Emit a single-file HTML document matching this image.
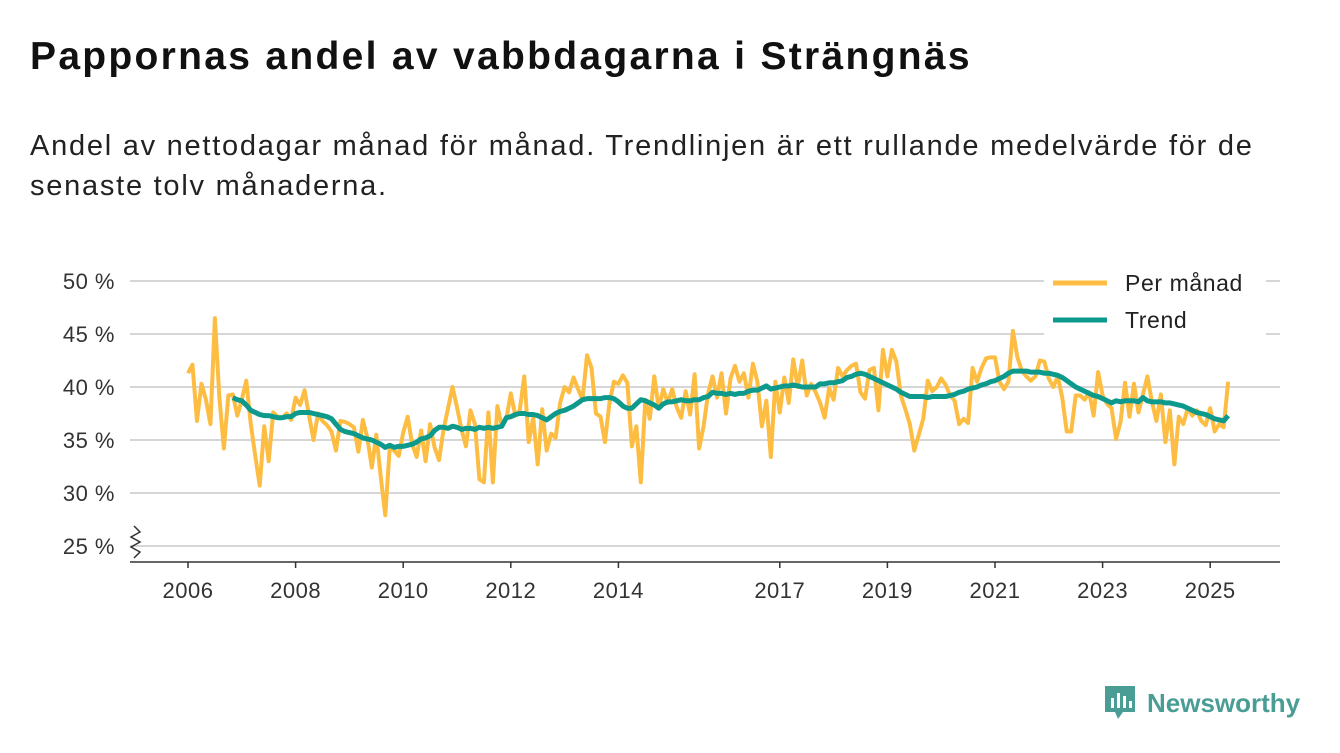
<!DOCTYPE html>
<html><head><meta charset="utf-8"><style>
body{margin:0;background:#fff;font-family:"Liberation Sans","DejaVu Sans",sans-serif;color:#111;}
#wrap{position:relative;width:1340px;height:753px;overflow:hidden;}
h1{position:absolute;left:30px;top:35px;margin:0;font-size:39px;font-weight:bold;letter-spacing:2.3px;white-space:nowrap;}
p.sub{position:absolute;left:30px;top:126px;margin:0;font-size:29px;line-height:40px;width:1300px;color:#222;letter-spacing:1.75px;white-space:nowrap;}
</style></head><body>
<div id="wrap">
<h1>Pappornas andel av vabbdagarna i Strängnäs</h1>
<p class="sub">Andel av nettodagar månad för månad. Trendlinjen är ett rullande medelvärde för de<br>senaste tolv månaderna.</p>
<svg id="chart" width="1340" height="753" style="position:absolute;left:0;top:0"></svg>
<div style="position:absolute;left:1103px;top:684px;display:flex;align-items:center;">
<svg width="34" height="38" viewBox="0 0 34 38"><path d="M2 2h30v26H20l-5 7-3-7H2z" fill="#4a9d95"/><rect x="8" y="14" width="3" height="10" fill="#fff"/><rect x="14" y="9" width="3" height="15" fill="#fff"/><rect x="20" y="12" width="3" height="12" fill="#fff"/><rect x="26" y="17" width="3" height="7" fill="#fff"/></svg>
<span style="font-size:26px;font-weight:bold;color:#4a9d95;margin-left:10px;">Newsworthy</span></div>
</div>
<script>
const years=["2006","2008","2010","2012","2014","2017","2019","2021","2023","2025"];
const yTicks=[25,30,35,40,45,50];
const monthly=[
41.3,42.1,36.8,40.3,38.8,36.5,46.5,39,34.2,39.2,39.3,37.3,
38.8,40.6,36.5,33.5,30.7,36.3,33,37.6,37.2,37.1,37.5,36.9,
39,38.3,39.7,37.3,35,37.5,36.8,36.4,35.8,34,36.8,36.7,
36.5,36.2,33.9,36.9,35.2,32.4,35.5,31.5,27.9,34.3,34,33.5,
35.7,37.2,34.6,33.4,35.9,33,36.5,34.3,33.1,36,38,40,
38.1,36,34.4,37.8,36.5,31.3,31,37.6,31,38.2,36.3,37,
39.4,37.3,37.8,41,34.8,37.1,32.7,37.9,34,35.6,35.2,38.5,
40,39.5,40.9,39.8,38.8,43,41.8,37.5,37.2,34.8,38.5,40.5,
40.3,41.1,40.4,34.4,36.3,31,38.8,37,41,38,39.8,38.5,
39.8,38.1,37.1,39.6,37.4,41.2,34.2,36.3,39.4,41,39,41.3,
37.5,40.8,42,40.5,41.3,39,42.2,40.5,36.3,38.7,33.4,40.5,
37.6,40.9,38.5,42.6,40,42.5,39.2,40.3,39.5,38.5,37.1,39.9,
38.8,41.8,41,41.6,42,42.2,39.5,38.9,41.6,41.8,37.8,43.5,
41,43.5,42.4,39.2,37.9,36.5,34,35.5,37,40.6,39.6,40,
40.8,40.2,39.2,38.7,36.5,37,36.6,41.8,40.5,41.8,42.7,42.8,
42.8,40.5,39.8,40.5,45.3,42.8,41.5,41,40.6,41,42.5,42.4,
40.8,40,41,39,35.8,35.8,39.2,39.2,38.8,39.5,37.3,41.4,
39.2,38.4,38,35.1,36.7,40.4,37.2,40.3,37.6,39.3,41,38.6,
36.8,39.3,34.8,37.8,32.7,37.2,36.5,38,37.3,37.8,36.8,36.4,
38,35.8,36.5,36.2,40.5];
const trendStart=10;
const trend=[
39,38.8,
38.7,38.3,37.8,37.6,37.4,37.3,37.3,37.2,37.1,37.1,37.2,37.2,
37.5,37.6,37.6,37.6,37.5,37.4,37.3,37.2,37.0,36.5,36.0,35.8,
35.7,35.6,35.4,35.2,35.1,35.0,34.8,34.6,34.3,34.5,34.3,34.4,
34.4,34.5,34.6,34.8,35.1,35.2,35.4,35.9,36.2,36.2,36.1,36.3,
36.2,36.0,36.1,36.1,36.0,36.2,36.1,36.2,36.1,36.2,36.3,37.1,
37.2,37.4,37.5,37.5,37.4,37.4,37.3,37.1,36.9,37.2,37.5,37.7,
37.8,38.0,38.2,38.5,38.8,38.9,38.9,38.9,38.9,39.0,39.0,38.9,
38.6,38.2,38.0,38.0,38.4,38.8,38.7,38.5,38.3,38.0,38.4,38.6,
38.6,38.7,38.8,38.7,38.7,38.8,38.8,39.0,39.1,39.5,39.4,39.4,
39.3,39.4,39.3,39.4,39.4,39.6,39.7,39.7,39.9,40.1,39.8,39.9,
40.0,40.1,40.1,40.2,40.1,40.0,40.0,40.0,40.0,40.3,40.3,40.4,
40.4,40.5,40.6,40.9,41.0,41.2,41.3,41.2,41.0,40.8,40.6,40.4,
40.2,40.0,39.8,39.5,39.3,39.1,39.1,39.1,39.1,39.0,39.1,39.1,
39.1,39.1,39.2,39.3,39.5,39.6,39.8,39.9,40.0,40.2,40.3,40.5,
40.6,40.8,41.0,41.3,41.5,41.5,41.5,41.5,41.4,41.4,41.4,41.3,
41.3,41.2,41.1,40.9,40.6,40.3,40.0,39.8,39.6,39.4,39.2,39.1,
38.9,38.7,38.5,38.7,38.6,38.7,38.7,38.7,38.6,39.0,38.7,38.6,
38.6,38.6,38.5,38.5,38.4,38.3,38.2,38.0,37.8,37.6,37.5,37.4,
37.2,37.0,36.9,36.8,37.3];

const svg=document.getElementById('chart');
const NS='http://www.w3.org/2000/svg';
const xM=i=>188+i*53.8/12;
const xY=y=>188+(parseInt(y)-2006)*53.8;
const yV=v=>546-(v-25)*10.6;
function mk(t,a){const e=document.createElementNS(NS,t);for(const k in a)e.setAttribute(k,a[k]);svg.appendChild(e);return e;}
yTicks.forEach(v=>{
 const l=mk('line',{x1:130,x2:1280,y1:yV(v),y2:yV(v),stroke:'#d6d6d6','stroke-width':2});
 
 
 const t=mk('text',{x:115,y:yV(v)+8,'text-anchor':'end','font-size':22,fill:'#333','font-family':'Liberation Sans, sans-serif','letter-spacing':0.5});
 t.textContent=v+' %';
 
 
});
const ax=mk('line',{x1:130,x2:1280,y1:562,y2:562,stroke:'#333','stroke-width':1.5});


const br=mk('path',{d:'M134 526 l6 6 l-9 5 l9 5 l-9 5 l9 5 l-6 6',fill:'none',stroke:'#333','stroke-width':1.5});


years.forEach(y=>{
 const x=xY(y);
 const tk=mk('line',{x1:x,x2:x,y1:562,y2:568,stroke:'#333','stroke-width':1.5});
 
 
 const t=mk('text',{x:x,y:598,'text-anchor':'middle','font-size':22,fill:'#333','font-family':'Liberation Sans, sans-serif','letter-spacing':0.5});
 t.textContent=y;
 
 
});
const pm=mk('polyline',{points:monthly.map((v,i)=>xM(i)+','+yV(v)).join(' '),fill:'none',stroke:'#fdbd43','stroke-width':4,'stroke-linejoin':'round'});


const tr=mk('polyline',{points:trend.map((v,i)=>xM(i+trendStart)+','+yV(v)).join(' '),fill:'none',stroke:'#0d9a8c','stroke-width':5,'stroke-linejoin':'round'});


const lb=mk('rect',{x:1044,y:262,width:222,height:76,fill:'#fff'});


[['Per månad','#fdbd43',283],['Trend','#0d9a8c',320]].forEach(([n,c,y])=>{
 const l=mk('line',{x1:1053,x2:1107,y1:y,y2:y,stroke:c,'stroke-width':5});
 
 
 const t=mk('text',{x:1125,y:y+8,'font-size':23,fill:'#222','font-family':'Liberation Sans, sans-serif','letter-spacing':0.6});
 t.textContent=n;
 
 
});
</script>
</body></html>
